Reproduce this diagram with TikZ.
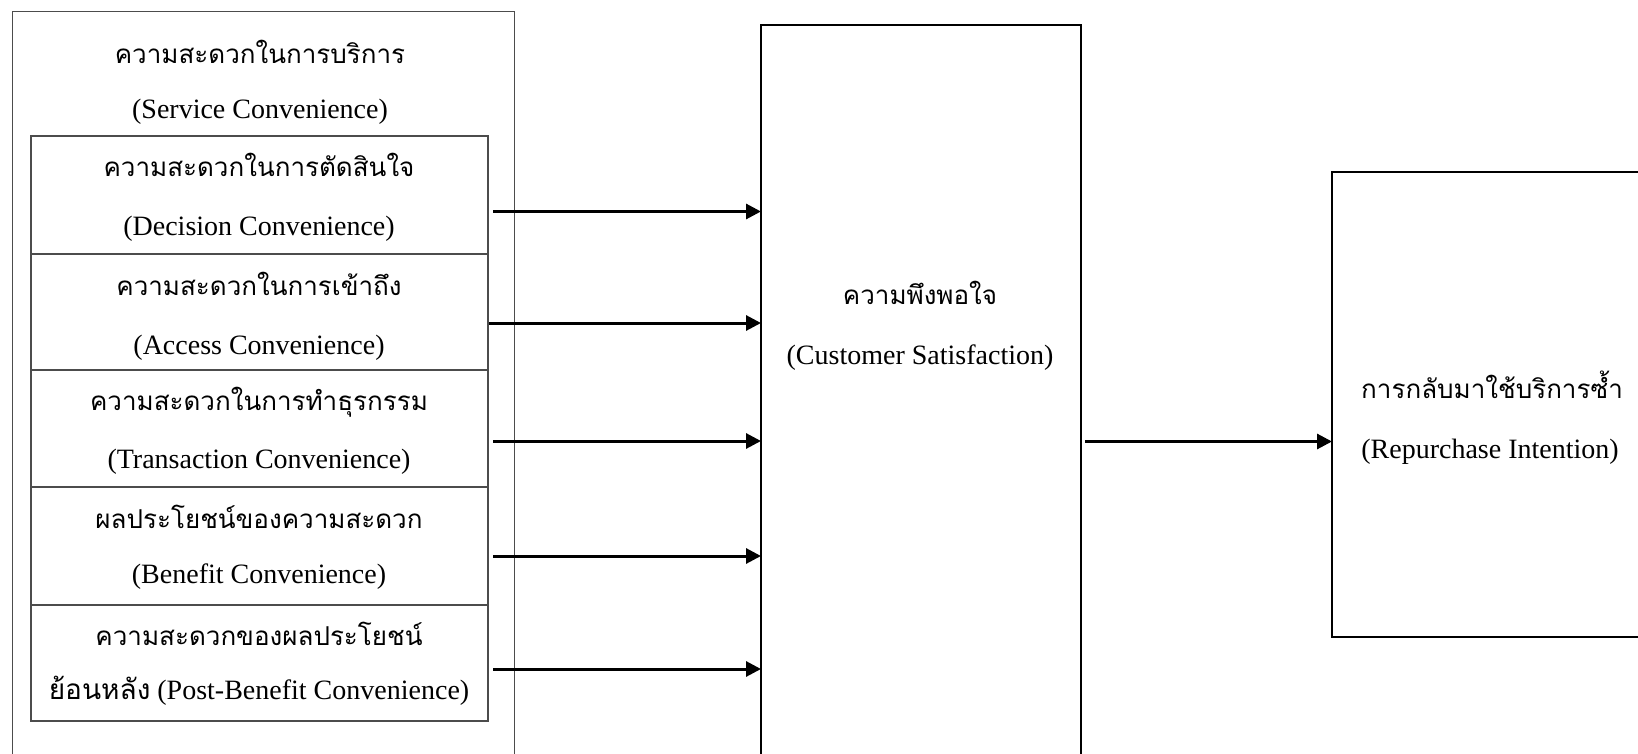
\documentclass[tikz,border=0pt]{standalone}
\usepackage{fontspec}
\setmainfont{Liberation Serif}
\newfontfamily\thai[Script=Thai]{Loma}
\usetikzlibrary{arrows.meta}
\begin{document}
\begin{tikzpicture}[x=1pt,y=-1pt,
  box/.style={draw, inner sep=0pt, outer sep=0pt, anchor=north west},
  thinbox/.style={box, draw=black!70, line width=1.2pt},
  thickbox/.style={box, draw=black, line width=2.2pt},
  txt/.style={inner sep=0pt, anchor=base, font=\fontsize{28}{34}\selectfont},
  th/.style={inner sep=0pt, anchor=base, font=\thai\fontsize{26}{32}\selectfont},
  arr/.style={-{Triangle[length=15pt,width=15pt]}, line width=3pt}]
\useasboundingbox (0,0) rectangle (1638,754);
\clip (0,0) rectangle (1638,754);
\fill[white] (0,0) rectangle (1638,754);
% outer box
\node[thinbox, minimum width=502pt, minimum height=760pt] (outer) at (12.5,11.5) {};
\node[th] (svcth) at (260,64) {ความสะดวกในการบริการ};
\node[txt] (svcen) at (260,119) {(Service Convenience)};
% inner boxes
\node[thinbox, minimum width=457pt, minimum height=118pt] (b1) at (31,136) {};
\node[thinbox, minimum width=457pt, minimum height=116pt] (b2) at (31,254) {};
\node[thinbox, minimum width=457pt, minimum height=117pt] (b3) at (31,370) {};
\node[thinbox, minimum width=457pt, minimum height=118pt] (b4) at (31,487) {};
\node[thinbox, minimum width=457pt, minimum height=116pt] (b5) at (31,605) {};
\node[th] (t1) at (259,177) {ความสะดวกในการตัดสินใจ};
\node[txt] (e1) at (259,236) {(Decision Convenience)};
\node[th] (t2) at (259,295) {ความสะดวกในการเข้าถึง};
\node[txt] (e2) at (259,354) {(Access Convenience)};
\node[th] (t3) at (259,410) {ความสะดวกในการทำธุรกรรม};
\node[txt] (e3) at (259,468) {(Transaction Convenience)};
\node[th] (t4) at (259,528) {ผลประโยชน์ของความสะดวก};
\node[txt] (e4) at (259,583) {(Benefit Convenience)};
\node[th] (t5) at (259,645) {ความสะดวกของผลประโยชน์};
\node[txt] (e5) at (259,699) {{\thai ย้อนหลัง} (Post-Benefit Convenience)};
% middle box
\node[thickbox, minimum width=320pt, minimum height=740pt] (mid) at (761,25) {};
\node[th] (midth) at (920,304) {ความพึงพอใจ};
\node[txt] (miden) at (920,364) {(Customer Satisfaction)};
% right box
\node[thickbox, minimum width=330pt, minimum height=465pt] (right) at (1332,172) {};
\node[th] (rth) at (1492,398) {การกลับมาใช้บริการซ้ำ};
\node[txt] (ren) at (1490,458) {(Repurchase Intention)};
% arrows
\coordinate (s1) at (493,211.5);
\coordinate (s2) at (489,323);
\coordinate (s3) at (493,441);
\coordinate (s4) at (493,556);
\coordinate (s5) at (493,669);
\coordinate (s6) at (1085,441.5);
\foreach \s in {s1,s2,s3,s4,s5}
  \draw[arr] (\s) -- (\s -| mid.west);
\draw[arr] (s6) -- (s6 -| right.west);
\end{tikzpicture}
\end{document}
